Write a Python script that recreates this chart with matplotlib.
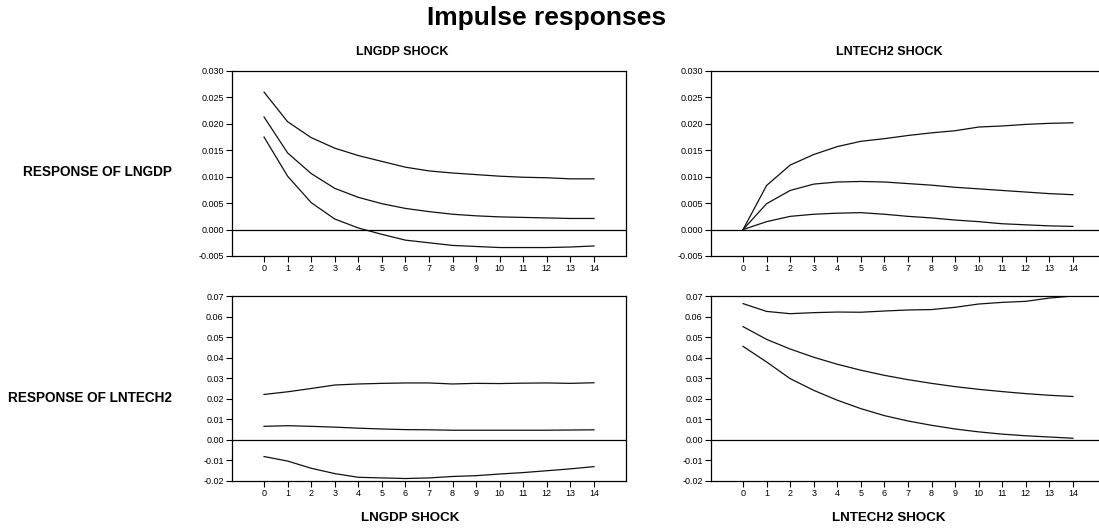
import matplotlib
matplotlib.use("Agg")
import matplotlib.pyplot as plt
from matplotlib.ticker import FormatStrFormatter

plt.rcParams['font.family'] = ['Liberation Sans', 'DejaVu Sans']
plt.rcParams['axes.unicode_minus'] = False

periods = list(range(15))

# Response of LNGDP to LNGDP shock
gdp_gdp_upper = [0.0260, 0.0204, 0.0174, 0.0154, 0.0140, 0.0129, 0.0118, 0.0111, 0.0107, 0.0104, 0.0101, 0.0099, 0.0098, 0.0096, 0.0096]
gdp_gdp_mid = [0.0213, 0.0145, 0.0106, 0.0078, 0.0061, 0.0049, 0.0040, 0.0034, 0.0029, 0.0026, 0.0024, 0.0023, 0.0022, 0.0021, 0.0021]
gdp_gdp_lower = [0.0175, 0.0101, 0.0051, 0.0020, 0.0003, -0.0009, -0.0020, -0.0025, -0.0030, -0.0032, -0.0034, -0.0034, -0.0034, -0.0033, -0.0031]

# Response of LNGDP to LNTECH2 shock
gdp_tech_upper = [0.0, 0.00835, 0.0122, 0.0142, 0.0157, 0.0167, 0.0172, 0.0178, 0.0183, 0.0187, 0.0194, 0.0196, 0.0199, 0.0201, 0.0202]
gdp_tech_mid = [0.0, 0.0049, 0.0074, 0.0086, 0.0090, 0.0091, 0.0090, 0.0087, 0.0084, 0.0080, 0.0077, 0.0074, 0.0071, 0.0068, 0.0066]
gdp_tech_lower = [0.0, 0.0015, 0.0025, 0.0029, 0.0031, 0.0032, 0.0029, 0.0025, 0.0022, 0.0018, 0.0015, 0.0011, 0.0009, 0.0007, 0.0006]

# Response of LNTECH2 to LNGDP shock
tech_gdp_upper = [0.0221, 0.0234, 0.0250, 0.0267, 0.0272, 0.0275, 0.0277, 0.0277, 0.0272, 0.0275, 0.0274, 0.0276, 0.0277, 0.0275, 0.0278]
tech_gdp_mid = [0.0066, 0.0069, 0.0066, 0.0062, 0.0057, 0.0053, 0.0050, 0.0049, 0.0047, 0.0047, 0.0047, 0.0047, 0.0047, 0.0048, 0.0049]
tech_gdp_lower = [-0.0081, -0.0103, -0.0138, -0.0164, -0.0182, -0.0185, -0.0188, -0.0185, -0.0178, -0.0174, -0.0166, -0.0159, -0.0150, -0.0141, -0.0130]

# Response of LNTECH2 to LNTECH2 shock
tech_tech_upper = [0.0663, 0.0625, 0.0614, 0.0619, 0.0622, 0.0621, 0.0627, 0.0632, 0.0634, 0.0645, 0.0661, 0.0669, 0.0674, 0.0690, 0.0700]
tech_tech_mid = [0.0551, 0.0489, 0.0442, 0.0402, 0.0368, 0.0339, 0.0314, 0.0293, 0.0275, 0.0259, 0.0246, 0.0235, 0.0225, 0.0217, 0.0211]
tech_tech_lower = [0.0455, 0.0379, 0.0298, 0.0241, 0.0193, 0.0152, 0.0118, 0.0092, 0.0071, 0.0053, 0.0039, 0.0028, 0.0020, 0.0014, 0.0008]

top_yticks = [-0.005, 0.000, 0.005, 0.010, 0.015, 0.020, 0.025, 0.030]
bottom_yticks = [-0.02, -0.01, 0.00, 0.01, 0.02, 0.03, 0.04, 0.05, 0.06, 0.07]

W, H = 1099, 531
fig = plt.figure(figsize=(W / 100, H / 100), dpi=100)


def px_axes(left, top, right, bottom):
    return fig.add_axes([left / W, 1 - bottom / H, (right - left) / W, (bottom - top) / H])


panels = [
    (px_axes(232, 71, 626, 256), (gdp_gdp_upper, gdp_gdp_mid, gdp_gdp_lower), top_yticks, '%.3f'),
    (px_axes(711, 71, 1105, 256), (gdp_tech_upper, gdp_tech_mid, gdp_tech_lower), top_yticks, '%.3f'),
    (px_axes(232, 296, 626, 481), (tech_gdp_upper, tech_gdp_mid, tech_gdp_lower), bottom_yticks, '%.2f'),
    (px_axes(711, 296, 1105, 481), (tech_tech_upper, tech_tech_mid, tech_tech_lower), bottom_yticks, '%.2f'),
]

for ax, series, yt, fmt in panels:
    for s in series:
        ax.plot(periods, s, color='#111111', lw=0.9)
    ax.axhline(0, color='black', lw=0.9)
    ax.set_xlim(-1.36, 15.36)
    ax.set_ylim(yt[0], yt[-1])
    ax.set_xticks(periods)
    ax.set_yticks(yt)
    ax.yaxis.set_major_formatter(FormatStrFormatter(fmt))
    ax.tick_params(axis='both', direction='out', length=4, width=0.8, labelsize=6.5, pad=2,
                   colors='black')
    for sp in ax.spines.values():
        sp.set_linewidth(0.9)
        sp.set_color('black')

fig.text(547 / W, 1 - 18 / H, 'Impulse responses', ha='center', va='center',
         fontsize=19, fontweight='bold')
fig.text(402 / W, 1 - 52 / H, 'LNGDP SHOCK', ha='center', va='center', fontsize=9, fontweight='bold')
fig.text(889 / W, 1 - 52 / H, 'LNTECH2 SHOCK', ha='center', va='center', fontsize=9, fontweight='bold')
fig.text(410 / W, 1 - 518 / H, 'LNGDP SHOCK', ha='center', va='center', fontsize=9.6, fontweight='bold')
fig.text(889 / W, 1 - 518 / H, 'LNTECH2 SHOCK', ha='center', va='center', fontsize=9.6, fontweight='bold')
fig.text(172 / W, 1 - 172 / H, 'RESPONSE OF LNGDP', ha='right', va='center', fontsize=9.8, fontweight='bold')
fig.text(172 / W, 1 - 398 / H, 'RESPONSE OF LNTECH2', ha='right', va='center', fontsize=9.8, fontweight='bold')

fig.savefig('out.png', dpi=100)
